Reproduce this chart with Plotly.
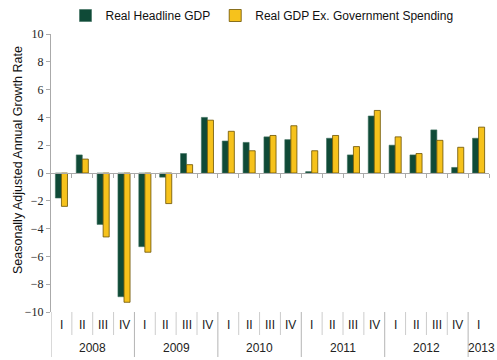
import plotly.graph_objects as go

quarters = ["I", "II", "III", "IV"] * 5 + ["I"]
years = ["2008", "2009", "2010", "2011", "2012", "2013"]
headline = [-1.8, 1.3, -3.7, -8.9, -5.3, -0.3, 1.4, 4.0, 2.3, 2.2, 2.6,
            2.4, 0.1, 2.5, 1.3, 4.1, 2.0, 1.3, 3.1, 0.4, 2.5]
ex_gov = [-2.4, 1.0, -4.6, -9.3, -5.7, -2.2, 0.6, 3.8, 3.0, 1.6, 2.7,
          3.4, 1.6, 2.7, 1.9, 4.5, 2.6, 1.4, 2.35, 1.85, 3.3]

x = list(range(len(quarters)))

W, H = 497, 360
L, R, T, B = 51, 8, 34, 48
PW = W - L - R
PH = H - T - B

fig = go.Figure()
fig.add_trace(go.Bar(x=x, y=headline, name="Real Headline GDP",
                     marker=dict(color="#0f4a37", line=dict(color="#3d6e5e", width=0.6))))
fig.add_trace(go.Bar(x=x, y=ex_gov, name="Real GDP Ex. Government Spending",
                     marker=dict(color="#f6c21c", line=dict(color="#6b5200", width=0.8))))

def py(pix):
    return -(pix - (H - B)) / PH

def px_(pix):
    return (pix - L) / PW

font_s = "Liberation Sans, Arial"
annotations = []
for i, q in enumerate(quarters):
    annotations.append(dict(x=i, y=py(325), xref="x", yref="paper", text=q,
                            xanchor="center", yanchor="middle",
                            showarrow=False, font=dict(family=font_s, size=12, color="#222")))
for j, yr in enumerate(years):
    start = j * 4
    end = min(start + 3, len(quarters) - 1)
    cx = (start + end) / 2
    annotations.append(dict(x=cx, y=py(348), xref="x", yref="paper", text=yr,
                            xanchor="center", yanchor="middle",
                            showarrow=False, xshift=3 if yr == "2013" else 0,
                            font=dict(family=font_s, size=12, color="#222")))
annotations.append(dict(x=px_(18), y=py(160), xref="paper", yref="paper",
                        text="Seasonally Adjusted Annual Growth Rate",
                        showarrow=False, textangle=-90, xanchor="center", yanchor="middle",
                        font=dict(family=font_s, size=12.5, color="#111")))

shapes = []
for k in range(1, len(quarters)):
    is_year = (k % 4 == 0)
    shapes.append(dict(type="line", xref="x", yref="paper", x0=k - 0.5, x1=k - 0.5,
                       y0=0, y1=py(357) if is_year else py(335),
                       line=dict(color="#b4b4b4" if is_year else "#cccccc", width=1)))
shapes.append(dict(type="line", xref="x", yref="paper", x0=-0.5, x1=-0.5, y0=0, y1=py(357),
                   line=dict(color="#b4b4b4", width=1)))

fig.update_layout(
    width=W, height=H, margin=dict(l=L, r=R, t=T, b=B, autoexpand=False),
    paper_bgcolor="white", plot_bgcolor="white",
    barmode="group", bargap=0.42, bargroupgap=0,
    showlegend=True,
    legend=dict(orientation="h", x=262 / W, xanchor="center", xref="container",
                y=1 - 1 / H, yanchor="top", yref="container",
                font=dict(family=font_s, size=12, color="#111"),
                traceorder="normal", itemwidth=30),
    annotations=annotations, shapes=shapes,
    xaxis=dict(range=[-0.5, len(quarters) - 0.5], anchor="free", position=0.5,
               showline=True, linecolor="#aaaaaa", linewidth=1,
               tickmode="array", tickvals=[k - 0.5 for k in range(1, len(quarters) + 1)],
               ticks="outside", ticklen=4, tickcolor="#aaaaaa",
               showticklabels=False, showgrid=False, zeroline=False, automargin=False),
    yaxis=dict(range=[-10, 10], tickmode="array", tickvals=list(range(-10, 11, 2)),
               showline=True, linecolor="#aaaaaa", linewidth=1,
               ticks="outside", ticklen=4, tickcolor="#aaaaaa",
               showgrid=False, zeroline=False, automargin=False,
               tickfont=dict(family="Liberation Serif, Times New Roman", size=12, color="#222")),
)

fig.write_html("out.html", config={"displayModeBar": False},
               post_script="document.body.style.margin='0';document.body.style.padding='0';")
